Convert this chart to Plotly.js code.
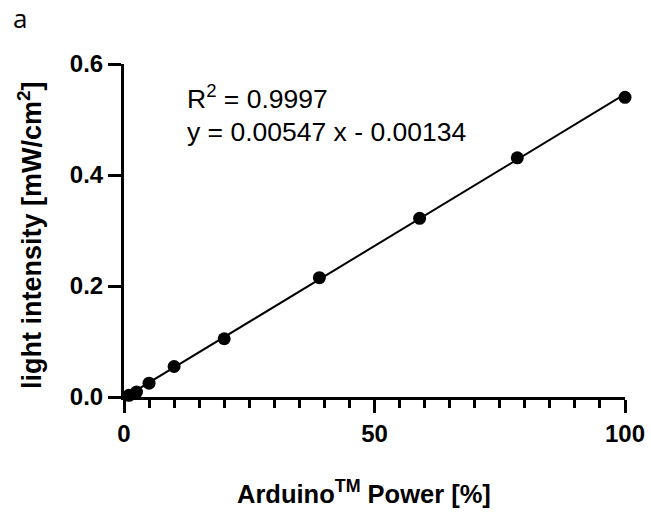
<!DOCTYPE html>
<html>
<head>
<meta charset="utf-8">
<script src="https://cdn.plot.ly/plotly-3.0.1.min.js"></script>
<style>html,body{margin:0;padding:0;background:#fff;}#chart{width:651px;height:517px;}</style>
</head>
<body>
<div id="chart"></div>
<script>
// Measured data
const powerPct = [1, 2.5, 5, 10, 20, 39, 59, 78.5, 100];
const intensity = [0.003, 0.009, 0.025, 0.055, 0.105, 0.215, 0.322, 0.431, 0.540];
// Linear fit
const slope = 0.00547;
const intercept = -0.00134;
const rSquared = 0.9997;
const fitX = [0, 100];
const fitY = fitX.map(x => slope * x + intercept);
// Axis ticks and labels
const xTicks = [0, 50, 100];
const xTickText = ['0', '50', '100'];
const yTicks = [0, 0.2, 0.4, 0.6];
const yTickText = ['0.0', '0.2', '0.4', '0.6'];
const xTitle = 'Arduino<sup>TM</sup> Power [%]';
const yTitle = 'light intensity [mW/cm<sup>2</sup>]';

const FONT = 'Liberation Sans, Arial, sans-serif';

const traces = [
  {
    x: fitX, y: fitY, mode: 'lines', type: 'scatter',
    line: {color: 'black', width: 2}, hoverinfo: 'skip', cliponaxis: false
  },
  {
    x: powerPct, y: intensity, mode: 'markers', type: 'scatter',
    marker: {color: 'black', size: 13}, cliponaxis: false
  }
];

const layout = {
  width: 651, height: 517,
  margin: {l: 124, r: 26, t: 64, b: 120},
  paper_bgcolor: 'white', plot_bgcolor: 'white',
  showlegend: false,
  xaxis: {
    range: [0, 100], tickvals: xTicks, ticktext: xTickText,
    showgrid: false, zeroline: false, showline: true, linewidth: 3, linecolor: 'black',
    ticks: 'outside', ticklen: 13, tickwidth: 3, tickcolor: 'black',
    minor: {dtick: 5, ticks: 'outside', ticklen: 8, tickwidth: 3, tickcolor: 'black', showgrid: false},
    tickfont: {family: FONT, size: 24, weight: 'bold', color: 'black'}
  },
  yaxis: {
    range: [0, 0.6], tickvals: yTicks, ticktext: yTickText,
    showgrid: false, zeroline: false, showline: true, linewidth: 3, linecolor: 'black',
    ticks: 'outside', ticklen: 13, tickwidth: 3, tickcolor: 'black',
    tickfont: {family: FONT, size: 24, weight: 'bold', color: 'black'}
  },
  annotations: [
    {xref: 'paper', yref: 'paper', x: 0.479, y: -0.285, xanchor: 'center', yanchor: 'middle', showarrow: false,
     text: xTitle, font: {family: FONT, size: 25.5, weight: 'bold', color: 'black'}},
    {xref: 'paper', yref: 'paper', x: -0.1876, y: 0.4865, xanchor: 'center', yanchor: 'middle', showarrow: false,
     textangle: -90, text: yTitle, font: {family: FONT, size: 27, weight: 'bold', color: 'black'}},
    {xref: 'paper', yref: 'paper', x: 0.122, y: 0.901, xanchor: 'left', yanchor: 'middle', showarrow: false,
     text: 'R<sup>2</sup> = ' + rSquared.toFixed(4), font: {family: FONT, size: 26.5, color: 'black'}},
    {xref: 'paper', yref: 'paper', x: 0.122, y: 0.796, xanchor: 'left', yanchor: 'middle', showarrow: false,
     text: 'y = ' + slope.toFixed(5) + ' x - ' + Math.abs(intercept).toFixed(5), font: {family: FONT, size: 26.5, color: 'black'}},
    {xref: 'paper', yref: 'paper', x: -0.226, y: 1.138, xanchor: 'left', yanchor: 'middle', showarrow: false,
     text: 'a', font: {family: 'Open Sans, sans-serif', size: 26, color: 'black'}}
  ]
};

Plotly.newPlot('chart', traces, layout, {displayModeBar: false, staticPlot: true});
</script>
</body>
</html>
